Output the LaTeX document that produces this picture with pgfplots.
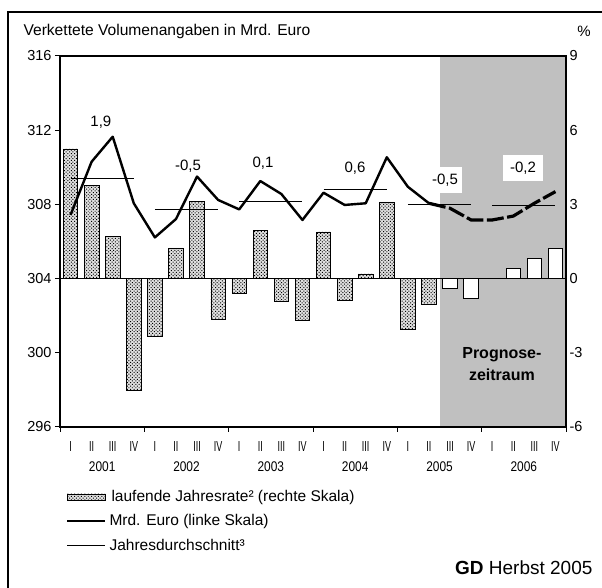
\documentclass[border=0pt]{standalone}
\usepackage{fontspec}
\setmainfont{Liberation Sans}
\usepackage{graphicx}
\usepackage{pgfplots}
\pgfplotsset{compat=1.18}
\usetikzlibrary{patterns,patterns.meta}
\definecolor{progshade}{RGB}{192,192,192}
\tikzset{barpat/.style={fill=black!12, postaction={pattern={Dots[distance=2.4pt, angle=45, radius=0.7pt]}}}}
\pgfplotsset{
  base/.style={
    at={(60pt,161pt)}, anchor=south west,
    scale only axis, width=506pt, height=371pt,
    xmin=0, xmax=24,
    /pgf/number format/assume math mode=true,
    axis line style={line width=1.1pt},
    tick style={line width=1pt, black},
  },
}
\newcommand{\Q}[1]{\scalebox{0.62}[1]{#1}}
\newcommand{\Y}[1]{\scalebox{0.85}[1]{#1}}
\begin{document}
\begin{tikzpicture}[x=1pt,y=1pt]
\useasboundingbox (0,0) rectangle (602,588);
% outer frame (cut at right and bottom)
\draw[line width=2pt] (8,-3) -- (8,576) -- (606,576);
% axis titles
\node[anchor=west, font=\fontsize{15.6}{18}\selectfont] at (20,557) {Verkettete Volumenangaben in Mrd. Euro};
\node[font=\fontsize{15}{18}\selectfont] at (584,557) {\%};

% ---------- axis 1: bars, right scale ----------
\begin{axis}[base,
  ymin=-6, ymax=9,
  axis y line*=right, axis x line*=bottom,
  ytick={-6,-3,0,3,6,9},
  yticklabels={-6,-3,0,3,6,9},
  tick align=inside, major tick length=5pt,
  yticklabel style={font=\fontsize{14.5}{16}\selectfont},
  xtick={2,6,10,14,18,22},
  xticklabels={\Y{2001},\Y{2002},\Y{2003},\Y{2004},\Y{2005},\Y{2006}},
  x tick style={draw=none},
  xticklabel style={anchor=center, yshift=-39.5pt, font=\fontsize{14}{16}\selectfont},
]
\fill[progshade] (axis cs:18,-6) rectangle (axis cs:24,9);
\addplot[ybar, bar width=14.5pt, bar shift=0pt, draw=black, line width=0.7pt, barpat]
 coordinates {(0.5,5.24)(1.5,3.77)(2.5,1.71)(3.5,-4.53)
              (4.5,-2.33)(5.5,1.24)(6.5,3.13)(7.5,-1.63)
              (8.5,-0.58)(9.5,1.95)(10.5,-0.94)(11.5,-1.70)
              (12.5,1.89)(13.5,-0.89)(14.5,0.19)(15.5,3.10)
              (16.5,-2.06)(17.5,-1.05)};
\addplot[ybar, bar width=14.5pt, bar shift=0pt, draw=black, line width=0.9pt, fill=white]
 coordinates {(18.5,-0.40)(19.5,-0.81)(20.5,0.0)(21.5,0.42)(22.5,0.82)(23.5,1.20)};
\draw[line width=1.3pt] (axis cs:0,0) -- (axis cs:24,0);
\end{axis}

% ---------- axis 3: quarter labels ----------
\begin{axis}[base,
  ymin=0, ymax=1, hide y axis, axis x line*=bottom,
  xtick={0.5,1.5,...,23.5},
  xticklabels={\Q{I},\Q{II},\Q{III},\Q{IV},\Q{I},\Q{II},\Q{III},\Q{IV},
               \Q{I},\Q{II},\Q{III},\Q{IV},\Q{I},\Q{II},\Q{III},\Q{IV},
               \Q{I},\Q{II},\Q{III},\Q{IV},\Q{I},\Q{II},\Q{III},\Q{IV}},
  x tick style={draw=none},
  xticklabel style={anchor=center, yshift=-20pt, font=\fontsize{14.5}{16}\selectfont},
]
\end{axis}

% ---------- axis 2: line, left scale ----------
\begin{axis}[base,
  ymin=296, ymax=316,
  ytick={296,300,304,308,312,316}, ytick pos=left,
  xtick={0,4,8,12,16,20,24}, xtick pos=bottom, xticklabels={,,,,,,},
  tick align=outside, major tick length=5pt,
  yticklabel style={font=\fontsize{14.5}{16}\selectfont},
]
\addplot[black, line width=2.4pt, line join=round]
 coordinates {(0.5,307.43)(1.5,310.30)(2.5,311.65)(3.5,308.06)
              (4.5,306.22)(5.5,307.21)(6.5,309.50)(7.5,308.24)
              (8.5,307.73)(9.5,309.26)(10.5,308.56)(11.5,307.16)
              (12.5,308.63)(13.5,307.97)(14.5,308.06)(15.5,310.54)
              (16.5,308.95)(17.5,308.06)};
\addplot[black, line width=3.2pt, dash pattern=on 17pt off 3.5pt]
 coordinates {(17.5,308.06)(18.5,307.79)(19.5,307.16)(20.5,307.16)
              (21.5,307.37)(22.5,308.06)(23.5,308.69)};
\addplot[black, line width=0.9pt, unbounded coords=jump]
 coordinates {(0.5,309.41)(3.5,309.41)(4,nan)
              (4.5,307.75)(7.5,307.75)(8,nan)
              (8.5,308.15)(11.5,308.15)(12,nan)
              (12.5,308.78)(15.5,308.78)(16,nan)
              (16.5,308.00)(19.5,308.00)(20,nan)
              (20.5,307.93)(23.5,307.93)};
\begin{scope}[font=\fontsize{15}{18}\selectfont]
\node at (axis cs:1.94,312.44) {1,9};
\node at (axis cs:6.07,310.07) {-0,5};
\node at (axis cs:9.63,310.23) {0,1};
\node at (axis cs:13.99,309.96) {0,6};
\node[fill=white, inner sep=0pt, minimum width=34pt, minimum height=26pt] at (axis cs:18.26,309.32) {-0,5};
\node[fill=white, inner sep=0pt, minimum width=40pt, minimum height=26pt] at (axis cs:21.96,309.96) {-0,2};
\end{scope}
\node[align=center, font=\fontsize{16}{22}\selectfont\bfseries] at (axis cs:20.96,299.40) {Prognose-\\zeitraum};
\end{axis}

% ---------- legend ----------
\begin{scope}[font=\fontsize{15.5}{18}\selectfont]
\draw[line width=0.6pt, barpat] (67,88) rectangle (105,94);
\node[anchor=west] at (108,91) {laufende Jahresrate² (rechte Skala)};
\draw[line width=2.4pt] (67,67) -- (105,67);
\node[anchor=west] at (106,67) {Mrd. Euro (linke Skala)};
\draw[line width=0.9pt] (67,43) -- (105,43);
\node[anchor=west] at (106,43) {Jahresdurchschnitt³};
\end{scope}
\node[anchor=east, font=\fontsize{19}{22}\selectfont] at (596,20) {{\bfseries GD} Herbst 2005};
\end{tikzpicture}
\end{document}
